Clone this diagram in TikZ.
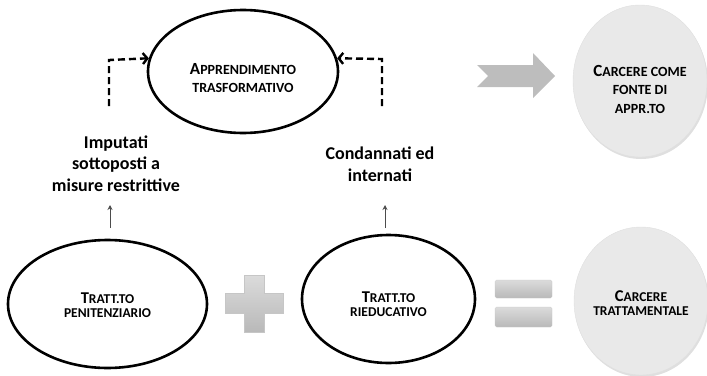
\documentclass[tikz,border=0pt]{standalone}
\usepackage{fontspec}
\setmainfont{Carlito}
\usetikzlibrary{arrows.meta,shapes.geometric,shadows}
\newcommand{\smcap}[2]{{\fontsize{17}{17}\selectfont #1}{\fontsize{14}{14}\selectfont #2}}
\newcommand{\smcapb}[2]{{\fontsize{16.5}{16}\selectfont #1}{\fontsize{13.5}{14}\selectfont #2}}
\definecolor{circfill}{HTML}{E9E9E9}
\definecolor{arrgray}{HTML}{BDBDBD}
\tikzset{
  oval/.style={ellipse, draw=black, line width=2.6pt, inner sep=0pt},
  disc/.style={ellipse, fill=circfill, draw=gray!25, line width=0.4pt, inner sep=0pt,
    drop shadow={opacity=0.25, shadow xshift=1pt, shadow yshift=-2pt}},
  lab/.style={align=center, font=\bfseries\fontsize{14}{14.5}\selectfont},
  labtop/.style={align=center, font=\bfseries\fontsize{14}{18}\selectfont},
  labfonte/.style={align=center, font=\bfseries\fontsize{14}{18.5}\selectfont},
  caption/.style={align=center, font=\bfseries\fontsize{18}{21.5}\selectfont},
  dasharr/.style={line width=2.4pt, dash pattern=on 7pt off 4pt, -{Straight Barb[length=4.5pt,width=11pt]}},
  smallarr/.style={draw=black!70, line width=1pt, -{Stealth[length=5pt,width=5pt]}},
  symshade/.style={top color=gray!28, bottom color=gray!55, draw=gray!45, line width=0.3pt}
}
\begin{document}
\begin{tikzpicture}[x=1pt,y=-1pt]
\useasboundingbox (0,0) rectangle (707,375);
% ellipses
\node[oval, minimum width=190, minimum height=123] (app) at (243,71.5) {};
\node[labtop] (appt) at (243,78) {\smcap{A}{PPRENDIMENTO}\\\smcap{}{TRASFORMATIVO}};
\node[oval, minimum width=199, minimum height=128] (pen) at (107.5,304) {};
\node[lab] (pent) at (107.5,305) {\smcapb{T}{RATT.TO}\\\smcapb{}{PENITENZIARIO}};
\node[oval, minimum width=173, minimum height=128] (ried) at (388.5,299) {};
\node[lab] (riedt) at (388.5,304) {\smcapb{T}{RATT.TO}\\\smcapb{}{RIEDUCATIVO}};
% grey discs
\node[disc, minimum width=134, minimum height=152] (fonte) at (640,81) {};
\node[labfonte] (fontet) at (640,89) {\smcap{C}{ARCERE COME}\\\smcap{}{FONTE DI}\\\smcap{}{APPR.TO}};
\node[disc, minimum width=134, minimum height=148] (tratt) at (641,301) {};
\node[lab] (trattt) at (641,303) {\smcapb{C}{ARCERE}\\\smcapb{}{TRATTAMENTALE}};
% captions
\node[caption] (imp) at (116,163.5) {Imputati\\sottoposti a\\misure restrittive};
\node[caption] (cond) at (380,164) {Condannati ed\\internati};
% small arrows
\coordinate (s1a) at (110,228);
\coordinate (s1b) at (110,205);
\coordinate (s2a) at (385,228);
\coordinate (s2b) at (385,205);
\draw[smallarr] (s1a) -- (s1b);
\draw[smallarr] (s2a) -- (s2b);
% dashed arrows
\coordinate (l1) at (109,106);
\coordinate (l2) at (109,60);
\coordinate (r1) at (382,106);
\coordinate (r2) at (382,59);
\draw[dasharr] (l1) -- (l2) -- (app.172);
\draw[dasharr] (r1) -- (r2) -- (app.8);
% big grey arrow
\fill[arrgray] (477,65) -- (533,65) -- (533,53) -- (555,76) -- (533,98) -- (533,87) -- (477,87) -- (488,76) -- cycle;
% plus
\shade[symshade] (225,293) -- (244,293) -- (244,275) -- (264,275) -- (264,293) -- (283,293) -- (283,313) -- (264,313) -- (264,332) -- (244,332) -- (244,313) -- (225,313) -- cycle;
% equals
\shade[symshade, rounded corners=1.5pt] (495,280) rectangle (552,298);
\shade[symshade, rounded corners=1.5pt] (495,307) rectangle (552,327);
\end{tikzpicture}
\end{document}
